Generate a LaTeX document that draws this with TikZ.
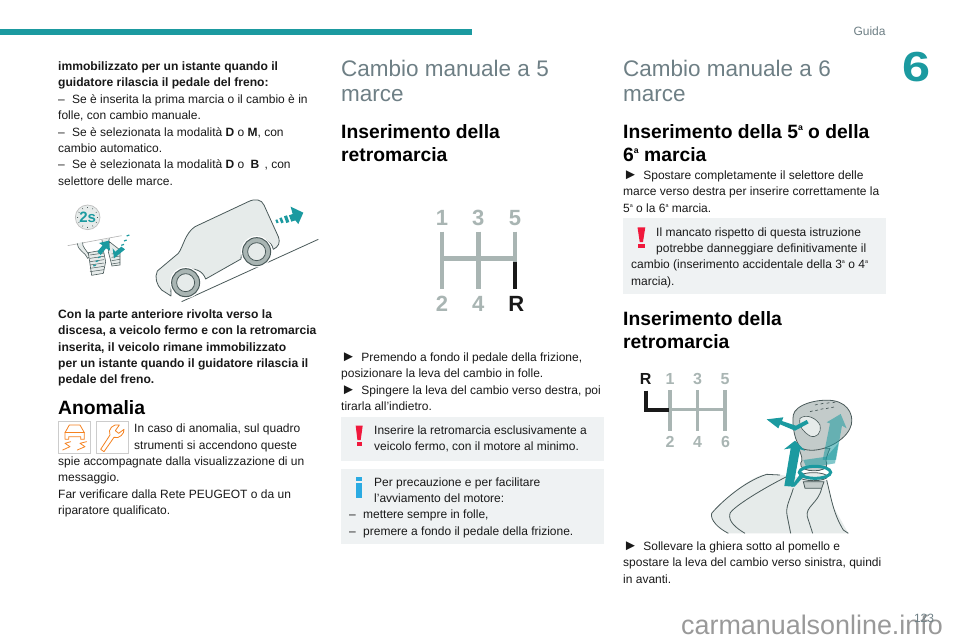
\documentclass[tikz,border=0pt]{standalone}
\usepackage{fontspec}
\setmainfont{Liberation Sans}
\usepackage{xcolor}
\usepackage{tikz}
\definecolor{tealbar}{HTML}{1B9AA0}
\definecolor{headgray}{HTML}{6E7F85}
\definecolor{notebox}{HTML}{EFF2F3}
\definecolor{shiftgray}{HTML}{A9B5B3}
\definecolor{carfill}{HTML}{E6EBEA}
\definecolor{carline}{HTML}{4A5A5A}
\definecolor{warnred}{HTML}{F0183C}
\definecolor{infoblue}{HTML}{2BABE2}
\definecolor{iconorange}{HTML}{F58220}
\newcommand{\ordinal}{\raisebox{.42em}{\scalebox{.45}{a}}}
\newcommand{\dashitem}{–\hspace{4pt} }
\newcommand{\stepitem}{\scalebox{1.25}{►}\hspace{2pt} }
\tikzset{every picture/.style={x=1pt,y=-1pt},
  bodytext/.style={anchor=north west,inner sep=0pt,align=left,font=\fontsize{12}{16.3}\selectfont,text=black!90},
  boldtext/.style={bodytext,font=\fontsize{12.1}{16.3}\selectfont\bfseries},
  titletext/.style={anchor=north west,inner sep=0pt,align=left,font=\fontsize{22.5}{25}\selectfont,text=headgray},
  headtext/.style={anchor=north west,inner sep=0pt,align=left,font=\fontsize{19.3}{23}\selectfont\bfseries},
  notefill/.style={fill=notebox,draw=none},
  shiftbar/.style={draw=shiftgray,line width=4.5pt},
  smallshift/.style={draw=shiftgray,line width=3.5pt},
  shiftdigit/.style={inner sep=0pt,text=shiftgray,font=\fontsize{22}{22}\selectfont\bfseries},
  smalldigit/.style={inner sep=0pt,text=shiftgray,font=\fontsize{16}{16}\selectfont\bfseries},
  carbody/.style={draw=carline,fill=carfill,line width=.8pt,line join=round},
  tealfill/.style={fill=tealbar,draw=none},
  iconbox/.style={draw=black!20,fill=white,line width=.6pt},
  iconline/.style={draw=iconorange,line width=.8pt,line cap=round,line join=round}}

\begin{document}
\begin{tikzpicture}
        \useasboundingbox (0,0) rectangle (960,640);
        \fill[white] (0,0) rectangle (960,640);

        % page header
        \fill[tealbar] (0,28.5) rectangle (472,35);
        \node[inner sep=0pt,text=headgray,font=\fontsize{12}{14}\selectfont] (guida) at (869.5,31) {Guida};
        \node[inner sep=0pt,text=tealbar,font=\fontsize{42}{42}\selectfont\bfseries] (chapter) at (916.5,67) {\scalebox{1.2}[1]{6}};
        \node[inner sep=0pt,text=black!40,font=\fontsize{26.9}{27}\selectfont] (site) at (812,625) {carmanualsonline.info};
        \node[inner sep=0pt,text=headgray,font=\fontsize{12}{14}\selectfont] (pagenum) at (924,618) {123};

        % first column
        \node[boldtext] (c1a) at (58,61.6) {immobilizzato per un istante quando il\\guidatore rilascia il pedale del freno:};
        \node[bodytext] (c1b) at (58,94.6) {\dashitem Se è inserita la prima marcia o il cambio è in\\folle, con cambio manuale.\\\dashitem Se è selezionata la modalità \textbf{D} o \textbf{M}, con\\cambio automatico.\\\dashitem Se è selezionata la modalità \textbf{D} o \hspace{3pt}\textbf{B}\hspace{2pt} , con\\selettore delle marce.};
        \node[boldtext] (c1c) at (58,309.6) {Con la parte anteriore rivolta verso la\\discesa, a veicolo fermo e con la retromarcia\\inserita, il veicolo rimane immobilizzato\\per un istante quando il guidatore rilascia il\\pedale del freno.};
        \node[headtext] (anomalia) at (58,400) {Anomalia};
        \node[bodytext] (c1d) at (134,424) {In caso di anomalia, sul quadro\\strumenti si accendono queste};
        \node[bodytext] (c1e) at (58,456.7) {spie accompagnate dalla visualizzazione di un\\messaggio.\\Far verificare dalla Rete PEUGEOT o da un\\riparatore qualificato.};

        % warning icons
        \begin{scope}[shift={(50,390)},x=.3333pt,y=-.3333pt]
          \draw[iconbox] (25,95) rectangle (122,190);
          \draw[iconbox] (139,95) rectangle (236,190);
          \draw[iconline] (45,148) -- (45,128) -- (58,105) -- (90,105) -- (103,128) -- (103,148) -- (92,148) -- (92,140) -- (56,140) -- (56,148) -- cycle;
          \draw[iconline] (45,128) -- (103,128);
          \draw[iconline] (38,180) -- (60,170) -- (45,160) -- (62,155);
          \draw[iconline] (82,180) -- (105,170) -- (90,160) -- (110,155);
          \draw[iconline] (152,178) -- (162,185) -- (192,142) .. controls (208,148) and (224,130) .. (222,118) -- (206,130) -- (196,122) -- (208,105) .. controls (190,100) and (172,118) .. (180,135) -- cycle;
        \end{scope}

        % car on the slope
        \begin{scope}[shift={(40,190)},x=.3333pt,y=-.3333pt]
          \draw[carline,line width=.8pt] (425,335) -- (835,148);
          \draw[carbody] (393,318) -- (365,300) .. controls (350,285) and (343,262) .. (352,243) -- (415,190) .. controls (430,170) and (435,130) .. (465,110) -- (625,35) .. controls (645,25) and (665,28) .. (672,45) -- (715,140) .. controls (722,160) and (715,170) .. (700,178) .. controls (690,130) and (605,130) .. (603,207) -- (497,267) .. controls (480,215) and (385,230) .. (393,318) -- cycle;
          \foreach \wx/\wy in {437/278, 650/185} {
            \fill[white] (\wx,\wy) circle (47);
            \draw[carline,fill=shiftgray,line width=1pt] (\wx,\wy) circle (42);
            \draw[carline,fill=carfill,line width=.8pt] (\wx,\wy) circle (27);
          }
          \fill[tealfill] (790,68) -- (752,50) -- (758,72) -- (747,76) -- (754,95) -- (766,91) -- (775,102) -- cycle;
          \fill[tealfill] (706,90) -- (712,88) -- (716,98) -- (710,100) -- cycle;
          \fill[tealfill] (718,85) -- (725,82) -- (731,97) -- (724,100) -- cycle;
          \fill[tealfill] (732,79) -- (741,76) -- (748,96) -- (739,99) -- cycle;

          % pedals
          \draw[black!30,line width=.6pt] (83,167) -- (245,137);
          \draw[carline,line width=.6pt,fill=carfill] (112,160) .. controls (115,185) and (135,185) .. (143,205) -- (150,200) .. controls (140,180) and (125,170) .. (128,157);
          \draw[carline,line width=.6pt,fill=carfill] (145,188) -- (190,180) -- (197,215) -- (190,250) -- (155,256) -- cycle;
          \foreach \py in {195,205,...,245} \draw[carline,line width=.5pt] (150,\py) -- (192,\py-6);
          \draw[carline,line width=.6pt,fill=carfill] (186,150) -- (190,175) -- (205,160) -- (208,145);
          \draw[carline,line width=.6pt,fill=carfill] (208,155) -- (240,180) -- (240,225) -- (216,228) -- (205,185) -- cycle;
          \foreach \py in {188,198,...,218} \draw[carline,line width=.5pt] (215,\py+4) -- (240,\py);
          \fill[tealfill] (207,152) -- (210,182) -- (198,175) -- (182,195) -- (172,185) -- (188,166) -- (177,159) -- cycle;
          \fill[tealfill] (222,205) -- (255,178) -- (244,170) -- (226,185) -- (218,175) -- cycle;
          \foreach \dx/\dy in {168/225, 175/212, 182/200, 268/135, 260/150, 252/163}
            \draw[tealbar,line width=1.2pt] (\dx,\dy) -- ++(-8,3);
          % two seconds clock
          \draw[draw=black!25,fill=carfill,line width=.7pt] (143,82) circle (37);
          \foreach \ang in {0,30,...,330} \draw[carline,line width=.4pt] (143,82) ++(\ang:28) -- ++(\ang:4);
          \node[inner sep=0pt,text=tealbar,font=\fontsize{15}{15}\selectfont\bfseries] (clock) at (143,82) {2s};
        \end{scope}

        % second column
        \node[titletext] (title5) at (341,60) {Cambio manuale a 5\\marce};
        \node[headtext] (rev1) at (341,124) {Inserimento della\\retromarcia};

        \begin{scope}[shift={(420,195)},x=.3333pt,y=-.3333pt]
          \draw[shiftbar] (66,110) -- (66,283);
          \draw[shiftbar] (175,110) -- (175,283);
          \draw[shiftbar] (285,110) -- (285,200);
          \draw[shiftbar] (66,190) -- (285,190);
          \draw[line width=4.5pt,black!90] (285,200) -- (285,283);
          \node[shiftdigit] (d1) at (66,70) {1};
          \node[shiftdigit] (d3) at (175,70) {3};
          \node[shiftdigit] (d5) at (285,70) {5};
          \node[shiftdigit] (d2) at (66,327) {2};
          \node[shiftdigit] (d4) at (175,327) {4};
          \node[shiftdigit,text=black!90] (dR) at (289,327) {R};
        \end{scope}

        \node[bodytext] (c2a) at (341,352.6) {\stepitem Premendo a fondo il pedale della frizione,\\posizionare la leva del cambio in folle.\\\stepitem Spingere la leva del cambio verso destra, poi\\tirarla all'indietro.};

        \fill[notefill] (341,417) rectangle (604,461);
        \node[bodytext] (n1) at (374,425.6) {Inserire la retromarcia esclusivamente a\\veicolo fermo, con il motore al minimo.};
        \fill[warnred] (355.7,425.7) -- (362.7,425.7) -- (360.7,440) -- (357.4,440) -- cycle;
        \fill[warnred] (356.7,441.7) rectangle (361.7,445.7);

        \fill[notefill] (341,469) rectangle (604,544);
        \node[bodytext] (n2) at (374,477.6) {Per precauzione e per facilitare\\l'avviamento del motore:};
        \node[bodytext] (n3) at (349,510) {\dashitem mettere sempre in folle,\\\dashitem premere a fondo il pedale della frizione.};
        \fill[infoblue] (355.7,477.3) rectangle (362,480.7);
        \fill[infoblue] (355.7,483.3) rectangle (362,497.7);

        % third column
        \node[titletext] (title6) at (623,60) {Cambio manuale a 6\\marce};
        \node[headtext] (fifth) at (623,124) {Inserimento della 5\ordinal{} o della\\6\ordinal{} marcia};
        \node[bodytext] (c3a) at (623,170.6) {\stepitem Spostare completamente il selettore delle\\marce verso destra per inserire correttamente la\\5\ordinal{} o la 6\ordinal{} marcia.};

        \fill[notefill] (623,218) rectangle (886,294);
        \node[bodytext] (n4) at (656,227.6) {Il mancato rispetto di questa istruzione\\potrebbe danneggiare definitivamente il};
        \node[bodytext] (n5) at (631,260) {cambio (inserimento accidentale della 3\ordinal{} o 4\ordinal{}\\marcia).};
        \fill[warnred] (637.5,227.3) -- (645.3,227.3) -- (643,242) -- (639.7,242) -- cycle;
        \fill[warnred] (638,243.7) rectangle (644.7,247.7);

        \node[headtext] (rev2) at (623,311) {Inserimento della\\retromarcia};

        \begin{scope}[shift={(630,360)},x=.3333pt,y=-.3333pt]
          \draw[smallshift] (120,90) -- (120,212);
          \draw[smallshift] (203,90) -- (203,212);
          \draw[smallshift] (285,90) -- (285,212);
          \draw[smallshift] (120,148) -- (285,148);
          \draw[line width=4pt,black!90,line join=miter] (47,92) -- (47,150) -- (118,150);
          \node[smalldigit,text=black!90] (sR) at (47,58) {R};
          \node[smalldigit] (s1) at (120,58) {1};
          \node[smalldigit] (s3) at (203,58) {3};
          \node[smalldigit] (s5) at (285,58) {5};
          \node[smalldigit] (s2) at (120,245) {2};
          \node[smalldigit] (s4) at (203,245) {4};
          \node[smalldigit] (s6) at (287,245) {6};

          % boot of the gear lever
          \fill[carfill] (450,345) -- (395,345) .. controls (340,365) and (270,430) .. (245,460) .. controls (240,480) and (265,505) .. (295,520) -- (655,520) -- (610,440) -- (590,360) -- cycle;
          \draw[carline,line width=.8pt] (450,345) -- (410,343) .. controls (340,365) and (270,430) .. (245,460) .. controls (240,480) and (265,505) .. (295,520);
          \draw[carline,line width=.8pt] (470,350) .. controls (400,385) and (310,440) .. (300,460) .. controls (293,485) and (320,505) .. (345,520);
          \draw[carline,line width=.8pt] (490,385) .. controls (480,420) and (465,440) .. (472,470) -- (482,520);
          \draw[carline,line width=.8pt] (575,385) .. controls (565,430) and (525,440) .. (532,470) -- (548,520);
          \draw[carline,line width=.8pt] (590,360) .. controls (605,420) and (610,460) .. (640,510) -- (655,520);

          % gear knob
          \draw[carbody,fill=shiftgray!70] (520,365) -- (525,385) -- (575,385) -- (582,365) -- cycle;
          \draw[carbody,fill=shiftgray!70] (505,260) .. controls (515,290) and (520,300) .. (512,310) .. controls (505,340) and (600,340) .. (590,310) .. controls (585,300) and (590,290) .. (600,265) -- cycle;
          \draw[carbody] (550,350) ellipse (42 and 12);
          \draw[carbody,fill=shiftgray!70] (490,165) .. controls (495,135) and (560,115) .. (610,122) .. controls (660,130) and (675,175) .. (660,205) .. controls (640,250) and (560,285) .. (515,265) .. controls (495,250) and (485,195) .. (490,165) -- cycle;
          \draw[carline,line width=.6pt,fill=carfill] (510,175) .. controls (530,160) and (560,175) .. (570,195) .. controls (575,220) and (560,235) .. (540,228) .. controls (520,215) and (505,200) .. (510,175) -- cycle;
          \foreach \gx/\gy in {540/155, 556/152, 572/148, 588/146, 604/143, 555/135, 572/132, 590/130, 608/128}
            \draw[carline,line width=.7pt] (\gx,\gy) -- ++(8,-2);

          % teal movement arrows
          \fill[tealbar,opacity=.55] (520,300) -- (590,290) -- (625,250) -- (615,310) -- (530,325) -- cycle;
          \draw[tealbar,line width=3pt] (555,337) ellipse (47 and 18);
          \fill[tealbar,opacity=.55] (578,300) -- (600,190) -- (590,187) -- (632,162) -- (650,205) -- (636,197) -- (618,300) -- cycle;
          \fill[tealfill] (463,378) -- (490,380) -- (510,268) -- (525,272) -- (495,242) -- (462,268) -- (482,265) -- cycle;
          \fill[tealbar] (484,380) -- (515,335) -- (525,345) -- (494,380) -- cycle;
          \fill[tealfill] (410,178) -- (460,172) -- (456,183) -- (498,197) -- (530,180) -- (536,190) -- (495,212) -- (450,193) -- (445,205) -- cycle;
        \end{scope}

        \node[bodytext] (c3b) at (623,541.6) {\stepitem Sollevare la ghiera sotto al pomello e\\spostare la leva del cambio verso sinistra, quindi\\in avanti.};
      \end{tikzpicture}
\end{document}
